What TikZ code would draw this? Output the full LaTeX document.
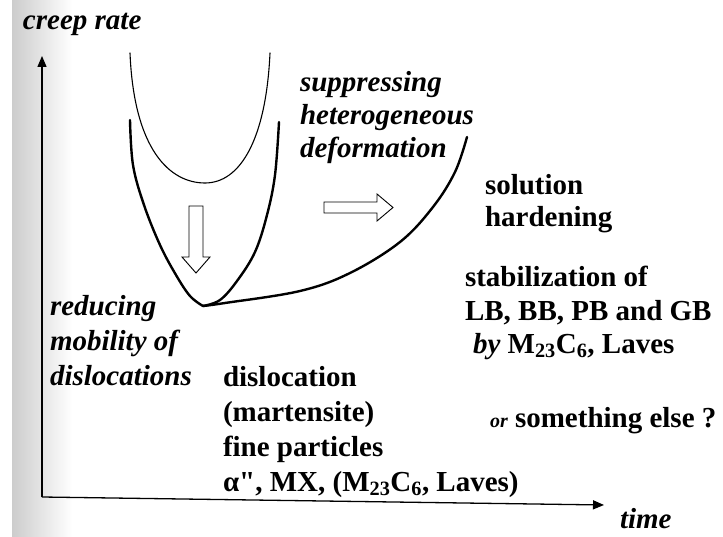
\documentclass[tikz,border=0pt]{standalone}
\usepackage{fontspec}
\setmainfont{Liberation Serif}
\usetikzlibrary{arrows.meta}
\tikzset{
  lbl/.style={inner sep=0pt, outer sep=0pt, anchor=base west, align=left,
    font=\fontsize{29}{35}\selectfont\bfseries},
  itlbl/.style={lbl, font=\fontsize{29}{35}\selectfont\bfseries\itshape},
  axis/.style={line width=1.3pt, -{Triangle[length=11pt,width=9pt]}},
  thick curve/.style={line width=2.4pt, line cap=round},
  thin curve/.style={line width=1.1pt, line cap=round},
  hollow/.style={line width=0.9pt, fill=white, line join=miter}
}
\newcommand{\straightdq}{{\addfontfeatures{Ligatures=TeXOff}"}}
\begin{document}
\begin{tikzpicture}[x=1pt,y=-1pt]
\useasboundingbox (0,0) rectangle (723,537);
\fill[white] (0,0) rectangle (723,537);
\shade[left color=black!20, right color=white] (12,0) rectangle (72,537);
% axes
\coordinate (O) at (42,497);
\coordinate (Ytip) at (42,56);
\coordinate (Xtip) at (604,505);
\draw[axis] (O) -- (Ytip);
\draw[axis] (O) -- (Xtip);
% thin upper curve
\draw[thin curve] (130,53) .. controls (134,150) and (170,183) .. (205,183)
      .. controls (240,183) and (266,140) .. (270,53);
% thick inner U
\draw[thick curve] plot[smooth, tension=0.6] coordinates
  {(130,120) (133,165) (144,205) (160,245) (176,275) (190,296) (203,306)};
\draw[thick curve] plot[smooth, tension=0.6] coordinates
  {(203,306) (220,300) (237,281) (255,252) (267,215) (275,175) (279,122)};
% outer curve
\draw[thick curve] plot[smooth, tension=0.6] coordinates
  {(203,306) (225,303) (300,291) (350,273) (400,242) (433,207) (455,172) (467,137)};
% hollow arrows
\draw[hollow] (189,206) -- (203,206) -- (203,257) -- (210,257) -- (196,273)
      -- (182,257) -- (189,257) -- cycle;
\draw[hollow] (324,202) -- (377,202) -- (377,194) -- (393,207.5) -- (377,221)
      -- (377,213) -- (324,213) -- cycle;
% labels (multi-line nodes are anchored at the baseline of their last line)
\node[itlbl] (cr) at (23,30) {creep rate};
\node[itlbl, font=\fontsize{29}{33}\selectfont\bfseries\itshape] (sup) at (300,158)
  {suppressing\\heterogeneous\\deformation};
\node[lbl, font=\fontsize{29}{32}\selectfont\bfseries] (sol) at (485,227) {solution\\hardening};
\node[lbl, font=\fontsize{29}{33}\selectfont\bfseries] (stab) at (465,320) {stabilization of\\LB, BB, PB and GB};
\node[lbl] (by) at (473,353) {\textit{by} M\textsubscript{23}C\textsubscript{6}, Laves};
\node[lbl] (else) at (490,427) {{\fontsize{20}{24}\selectfont\itshape or} something else ?};
\node[itlbl] (red) at (50,385) {reducing\\mobility of\\dislocations};
\node[lbl] (disl) at (223,491) {dislocation\\(martensite)\\fine particles\\α\straightdq, MX, (M\textsubscript{23}C\textsubscript{6}, Laves)};
\node[itlbl] (time) at (620,528) {time};
\end{tikzpicture}
\end{document}
